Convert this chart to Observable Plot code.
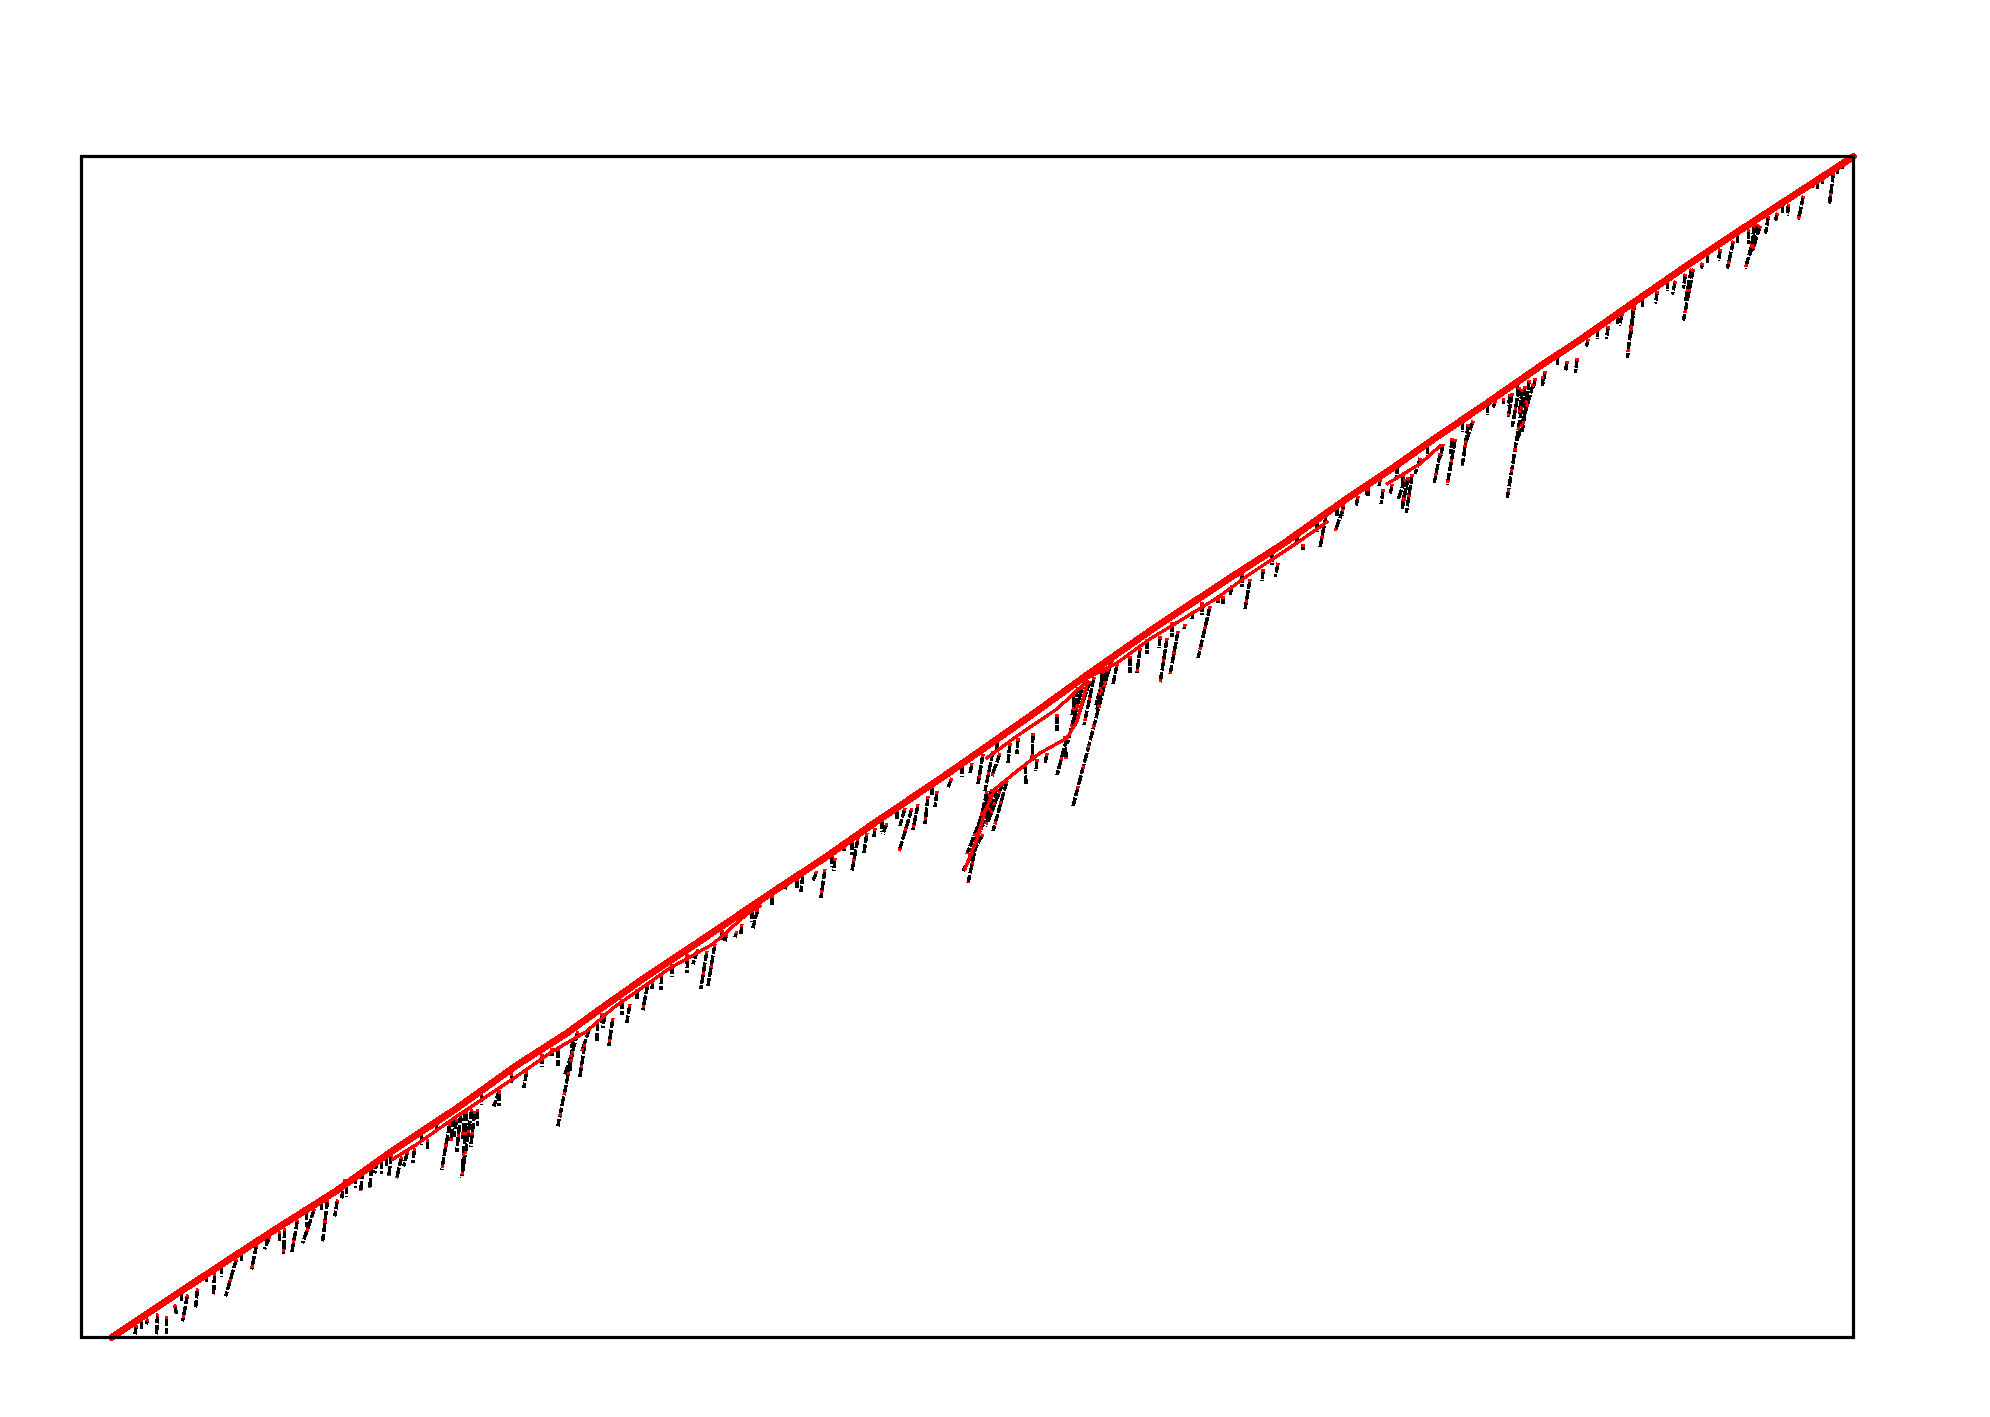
<!DOCTYPE html>
<html><head><meta charset="utf-8">
<style>html,body{margin:0;padding:0;background:#fff}svg{display:block}</style>
<script src="https://cdn.jsdelivr.net/npm/d3@7"></script>
<script src="https://cdn.jsdelivr.net/npm/@observablehq/plot@0.6"></script>
</head><body><div id="chart"></div>
<script>
const mainX=[30,78,146,200,254,310,375,435,485,521,565,615,655,698,741,788,831,868,901,951,1005,1035,1068,1101,1151,1201,1263,1308,1352,1398,1460,1498,1551,1606,1651,1711,1771];
const mainY=[0,32,77,112,146,186,229,272,304,330,361,394,421,450,478,511,540,565,588,623,662,683,706,728,761,793,837,867,898,929,972,997,1034,1072,1102,1141,1180];
const branchAX=[311,335,375,405,435,471,505,531,551,588,631,665,678];
const branchAY=[178,193,221,241,261,286,306,329,343,369,393,423,431];
const branchBX=[905,935,975,1005];
const branchBY=[579,601,628,656];
const branchCX=[883,896,903,913,935,958,985,995,1005];
const branchCY=[468,501,526,548,566,584,599,616,653];
const branchDX=[1005,1035,1068,1101,1135,1168,1215,1245];
const branchDY=[659,674,698,718,739,763,794,815];
const branchEX=[1305,1338,1358];
const branchEY=[853,873,891];
const spikeTopX=[85,76,93,106,116,133,155,175,188,203,216,233,246,256,55,66,198,263,273,281,290,296,310,320,326,333,346,368,375,390,396,383,418,418,445,476,491,490,503,491,496,508,516,531,523,548,566,580,571,606,616,633,625,645,660,676,655,705,721,735,743,753,776,763,785,793,805,830,823,836,846,855,870,890,901,911,928,936,951,943,955,965,983,975,1001,991,1028,1021,1035,1048,1058,1085,1096,1078,1103,925,915,908,901,895,918,921,1008,918,1026,1128,1111,1136,1141,1150,1168,1181,1196,1221,1244,1261,1261,1276,1301,1310,1298,1286,1330,1326,1321,1338,1358,1373,1361,1386,1391,1370,1413,1421,1428,1443,1451,1440,1460,1485,1495,1463,1453,1506,1526,1551,1540,1575,1593,1611,1603,1620,1638,1651,1675,1666,1678,1686,1695,1706,1721,1751,1740,1760,1731];
const spikeTopY=[21,24,33,43,49,64,79,93,101,109,118,129,138,138,13,19,106,158,163,168,171,178,183,181,186,189,198,214,218,228,228,226,248,246,266,289,286,283,293,299,306,309,316,319,323,333,353,363,356,379,388,393,386,403,413,428,406,453,463,466,468,479,499,491,504,509,514,529,529,533,541,546,559,574,583,586,594,599,604,573,578,584,601,623,653,643,673,666,673,681,689,699,706,701,713,556,549,543,503,496,546,554,656,584,668,731,726,739,741,751,758,768,774,793,822,828,833,841,848,853,858,849,863,859,863,879,884,898,893,913,916,899,936,939,943,951,953,948,961,976,979,966,959,998,1011,1029,1023,1046,1056,1068,1063,1074,1088,1096,1113,1108,1111,1121,1124,1133,1141,1164,1158,1173,1153];
const spikeTipX=[85,75,95,101,114,132,144,170,183,202,210,221,241,253,53,65,198,260,274,279,288,293,307,315,322,331,346,360,372,380,396,381,412,417,442,476,476,483,498,488,491,500,515,527,521,545,561,579,570,605,611,626,619,643,659,671,653,703,719,731,739,752,770,762,782,792,801,817,818,831,843,853,866,888,896,903,926,935,950,944,954,963,984,975,985,993,991,1015,1031,1048,1055,1078,1088,1077,1102,911,898,885,881,886,906,903,993,910,1016,1116,1110,1136,1141,1148,1163,1180,1193,1221,1238,1253,1260,1274,1299,1308,1297,1286,1324,1320,1321,1333,1352,1365,1358,1380,1383,1368,1411,1421,1426,1425,1435,1437,1460,1483,1493,1460,1451,1504,1524,1545,1537,1573,1590,1601,1601,1619,1636,1645,1663,1666,1670,1683,1693,1705,1716,1747,1740,1760,1730];
const spikeTipY=[3,3,23,16,30,43,41,68,88,83,84,94,96,121,1,13,94,139,149,146,149,164,161,159,171,174,187,167,200,159,211,198,231,231,249,271,211,263,260,264,286,286,296,291,309,314,327,347,348,364,373,351,348,396,403,409,400,448,445,456,439,466,466,486,484,500,503,485,511,507,513,530,550,563,553,546,574,583,576,553,566,573,578,606,593,626,531,628,653,664,664,654,663,689,708,506,506,483,466,454,516,511,611,561,636,679,718,734,733,742,728,756,760,787,790,806,821,831,833,843,851,841,824,833,853,863,854,852,879,871,893,883,929,933,931,839,896,923,953,965,964,951,948,990,998,979,1011,1033,1042,1016,1048,1068,1076,1068,1068,1093,1086,1103,1116,1121,1117,1133,1153,1168,1149];
const clusterTopX=[385,379,372,393,1012,1000,996,985,910,905,1447,1437,1430,1326,1323,1552,1609,1672,1030,1024];
const clusterTopY=[226,224,220,226,660,650,650,600,548,546,957,950,944,860,858,1032,1068,1112,676,670];
const clusterTipX=[381,375,369,389,1002,990,990,975,895,892,1440,1430,1426,1320,1316,1548,1603,1668,1018,1014];
const clusterTipY=[170,185,196,190,612,610,622,562,500,488,905,910,920,828,838,1000,1035,1082,640,632];
const tickX=[60,100,125,140,160,185,225,240,265,300,305,340,355,400,430,460,470,520,540,555,590,605,640,670,690,715,750,770,800,815,850,880,915,1020,1065,1090,1120,1160,1190,1215,1235,1255,1285,1315,1345,1380,1405,1435,1475,1515,1535,1560,1585,1625,1655,1700,1735,1755];
const tickTopY=[18,46,63,73,86,102,127,137,153,178,181,205,215,245,264,283,289,324,338,348,373,383,407,428,442,459,483,497,518,528,552,573,597,667,698,715,735,764,785,803,817,831,852,873,893,917,934,955,982,1010,1023,1040,1058,1084,1104,1134,1156,1170];
const tickTipY=[8,34,55,60,76,92,110,126,140,163,170,192,207,232,254,270,281,312,322,338,360,372,395,415,432,447,470,482,505,516,540,560,585,655,683,700,722,750,772,793,805,820,842,860,880,905,922,945,972,998,1012,1030,1046,1073,1094,1124,1148,1163];

const branches=[[mainX,mainY],[branchAX,branchAY],[branchBX,branchBY],[branchCX,branchCY],[branchDX,branchDY],[branchEX,branchEY]];
const rows=branches.flatMap(([xs,ys],b)=>xs.map((x,i)=>({x,y:ys[i],b})));
const segments=[
  ...spikeTopX.map((x,i)=>({x1:x,y1:spikeTopY[i],x2:spikeTipX[i],y2:spikeTipY[i]})),
  ...clusterTopX.map((x,i)=>({x1:x,y1:clusterTopY[i],x2:clusterTipX[i],y2:clusterTipY[i]})),
  ...tickX.map((x,i)=>({x1:x,y1:tickTopY[i],x2:x,y2:tickTipY[i]}))
];
const segLinks=(stroke,strokeDasharray)=>Plot.link(segments,{x1:"x1",y1:"y1",x2:"x2",y2:"y2",stroke,strokeWidth:3.5,strokeDasharray,shapeRendering:"crispEdges"});

const chart=Plot.plot({
  width:1990,height:1417,marginLeft:81,marginRight:137,marginTop:156,marginBottom:80,
  style:{background:"#fff"},
  x:{domain:[0,1771],axis:null},y:{domain:[0,1180],axis:null},
  marks:[
    segLinks("#000","10 1.5"),
    segLinks("#f00","3 18"),
    Plot.line(rows.filter(d=>d.b>0),{x:"x",y:"y",z:"b",stroke:"#f00",strokeWidth:3.5,shapeRendering:"crispEdges"}),
    Plot.line(rows.filter(d=>d.b===0),{x:"x",y:"y",stroke:"#f00",strokeWidth:7,shapeRendering:"crispEdges"}),
    Plot.frame({stroke:"#000",strokeWidth:3.2})
  ]
});
document.getElementById("chart").append(chart);
</script></body></html>
